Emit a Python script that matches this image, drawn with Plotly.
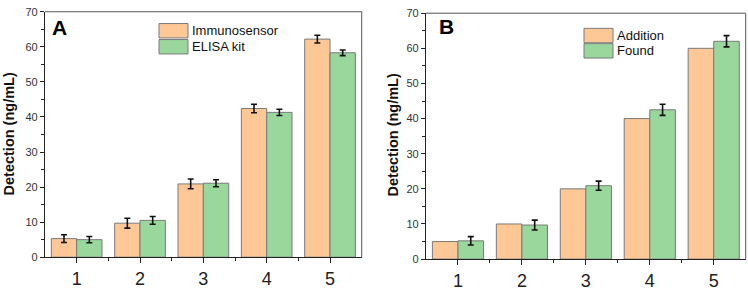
import plotly.graph_objects as go

categories = [1, 2, 3, 4, 5]

# Panel A
immuno_vals = [5.3, 9.7, 20.9, 42.4, 62.2]
immuno_err = [1.1, 1.4, 1.4, 1.2, 1.1]
elisa_vals = [5.0, 10.5, 21.1, 41.3, 58.3]
elisa_err = [0.9, 1.1, 1.0, 0.9, 0.8]

# Panel B
addition_vals = [5, 10, 20, 40, 60]
found_vals = [5.2, 9.7, 20.9, 42.5, 62.0]
found_err = [1.2, 1.4, 1.3, 1.6, 1.6]

y_ticks = [0, 10, 20, 30, 40, 50, 60, 70]
y_title = "Detection (ng/mL)"

ORANGE = "#FDC896"
GREEN = "#9AD79C"
EDGE = "#7a7a7a"
W, H = 748, 291

fig = go.Figure()

def bar(x, y, err, color, xa, ya, name):
    kw = dict(x=x, y=y, name=name, xaxis=xa, yaxis=ya, showlegend=False,
              marker=dict(color=color, line=dict(color=EDGE, width=1)))
    if err is not None:
        kw["error_y"] = dict(type="data", array=err, visible=True,
                             color="#111111", thickness=1.6, width=3)
    return go.Bar(**kw)

fig.add_trace(bar(categories, immuno_vals, immuno_err, ORANGE, "x", "y", "Immunosensor"))
fig.add_trace(bar(categories, elisa_vals, elisa_err, GREEN, "x", "y", "ELISA kit"))
fig.add_trace(bar(categories, addition_vals, None, ORANGE, "x2", "y2", "Addition"))
fig.add_trace(bar(categories, found_vals, found_err, GREEN, "x2", "y2", "Found"))

def px_x(p):
    return p / W

def px_y(p):
    return 1 - p / H

xA = [px_x(45), px_x(361.7)]
yA = [px_y(262), px_y(6)]
xB = [px_x(426), px_x(745.7)]
yB = [px_y(264), px_y(7.5)]

font_family = "Liberation Sans, Arial, sans-serif"

def xaxis(domain, anchor):
    return dict(domain=domain, anchor=anchor, range=[0.5, 5.5],
                tickvals=categories, ticktext=[str(c) for c in categories],
                ticks="outside", ticklen=5, tickwidth=1, tickcolor="#222",
                showline=True, linecolor="#222", linewidth=1.3,
                showgrid=False, zeroline=False,
                tickfont=dict(size=18, color="#222", family=font_family),
                minor=dict(tickvals=[1.5, 2.5, 3.5, 4.5], ticks="outside", ticklen=3,
                           tickcolor="#222", showgrid=False))

def yaxis(domain, anchor):
    return dict(domain=domain, anchor=anchor, range=[0, 70],
                tickvals=y_ticks, ticks="outside", ticklen=4, tickwidth=1, tickcolor="#222",
                showline=True, linecolor="#222", linewidth=1.3,
                showgrid=False, zeroline=False,
                tickfont=dict(size=11, color="#333", family=font_family),
                minor=dict(dtick=5, ticks="outside", ticklen=2.5, tickcolor="#222", showgrid=False))

fig.update_layout(
    width=W, height=H,
    margin=dict(l=0, r=0, t=0, b=0),
    paper_bgcolor="white", plot_bgcolor="white",
    barmode="group", bargap=0.2, bargroupgap=0,
    showlegend=False,
    xaxis=xaxis(xA, "y"), yaxis=yaxis(yA, "x"),
    xaxis2=xaxis(xB, "y2"), yaxis2=yaxis(yB, "x2"),
)

shapes = []
annotations = []
# top/right frame lines (gray, thin)
for xr, yr in [("x domain", "y domain"), ("x2 domain", "y2 domain")]:
    shapes.append(dict(type="line", xref=xr, yref=yr, x0=0, x1=1, y0=1, y1=1,
                       line=dict(color="#555", width=1)))
    shapes.append(dict(type="line", xref=xr, yref=yr, x0=1, x1=1, y0=0, y1=1,
                       line=dict(color="#555", width=1)))

# manual legends (screen px positions)
def legend(x0, rows):
    for (label, color, ytop) in rows:
        shapes.append(dict(type="rect", xref="paper", yref="paper",
                           x0=px_x(x0), x1=px_x(x0 + 29), y0=px_y(ytop + 15), y1=px_y(ytop),
                           fillcolor=color, line=dict(color=EDGE, width=1)))
        annotations.append(dict(xref="paper", yref="paper", x=px_x(x0 + 31), y=px_y(ytop + 7.5),
                                text=label, showarrow=False, xanchor="left", yanchor="middle",
                                font=dict(size=13, color="#111", family=font_family)))

legend(159, [("Immunosensor", ORANGE, 18.3), ("ELISA kit", GREEN, 35)])
legend(584, [("Addition", ORANGE, 23.3), ("Found", GREEN, 39.3)])

annotations.append(dict(xref="paper", yref="paper", x=px_x(50), y=px_y(22), text="<b>A</b>",
                        showarrow=False, xanchor="left", yanchor="middle",
                        font=dict(size=21, color="#000", family=font_family)))
annotations.append(dict(xref="paper", yref="paper", x=px_x(437), y=px_y(21), text="<b>B</b>",
                        showarrow=False, xanchor="left", yanchor="middle",
                        font=dict(size=21, color="#000", family=font_family)))

# y-axis titles
for cx, cy in [(9, 134), (393, 135)]:
    annotations.append(dict(xref="paper", yref="paper", x=px_x(cx), y=px_y(cy),
                            text="<b>" + y_title + "</b>", textangle=-90, showarrow=False,
                            xanchor="center", yanchor="middle",
                            font=dict(size=14.5, color="#111", family=font_family)))

fig.update_layout(shapes=shapes, annotations=annotations)

fig.write_html("out.html", config={"displayModeBar": False},
               post_script="document.body.style.margin='0px';document.body.style.overflow='hidden';")
